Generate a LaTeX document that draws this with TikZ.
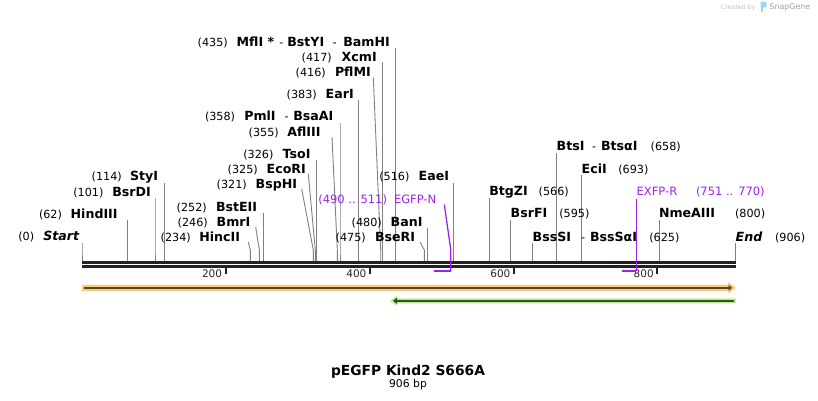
\documentclass[tikz,border=0pt]{standalone}
\usepackage{fontspec}
\setmainfont{DejaVu Sans}
\usetikzlibrary{arrows.meta}
\definecolor{primc}{RGB}{160,32,240}
\definecolor{sitec}{RGB}{128,128,128}
\definecolor{orlight}{RGB}{250,200,120}
\definecolor{ordark}{RGB}{88,72,50}
\definecolor{grlight}{RGB}{182,240,132}
\definecolor{grdark}{RGB}{58,74,48}
\definecolor{bbc}{RGB}{34,34,34}
\definecolor{sgblue}{RGB}{160,212,246}
\begin{document}
\begin{tikzpicture}[x=1pt,y=-1pt,
  lbl/.style={anchor=base west, inner sep=0pt, outer sep=0pt, text=black, font=\fontsize{11.2}{13}\selectfont},
  enz/.style={lbl, font=\fontsize{12.6}{14}\selectfont\bfseries},
  endlbl/.style={lbl, font=\fontsize{12.6}{14}\selectfont\bfseries\itshape},
  prim/.style={lbl, text=primc, font=\fontsize{11.5}{13}\selectfont},
  site/.style={draw=sitec, line width=0.9pt},
  primline/.style={draw=primc, line width=1.3pt},
  primbar/.style={draw=primc, line width=2pt},
  bbline/.style={draw=bbc, line cap=butt},
  tickmark/.style={draw=bbc, line width=1.8pt, line cap=butt},
  axnum/.style={anchor=base east, inner sep=0pt, text=black!85, font=\fontsize{10.5}{12}\selectfont}
]
\useasboundingbox (0,0) rectangle (818,400);

% ---------- backbone ----------
\coordinate (bbl1) at (82,262.5);  \coordinate (bbr1) at (736,262.5);
\coordinate (bbl2) at (82,266.4);  \coordinate (bbr2) at (736,266.4);
\draw[bbline, line width=3pt] (bbl1) -- (bbr1);
\draw[bbline, line width=2.7pt] (bbl2) -- (bbr2);

% ---------- axis ticks ----------
\foreach \nm/\x/\t in {t200/225.7/200, t400/370/400, t600/514/600, t800/657.3/800}{
  \coordinate (\nm a) at (\x,267.5);
  \coordinate (\nm b) at (\x,274.3);
  \draw[tickmark] (\nm a) -- (\nm b);
  \node[axnum] (\nm) at (\x-3.4,277.7) {\t};
}

% ---------- site lines ----------
\foreach \nm/\xa/\ya/\xb in {
  start/82/243/82, hind/127.3/220/127.3, bsrdi/155/198/155, styi/164.3/183/164.3,
  hinc/248.3/242/250.3, bmr/255.7/227/259.3, bste/263.7/212.7/263.7,
  bsph/301.7/189/313.3, eco/308.3/174/315.3, tso/316.9/160/316.9,
  afl/332/137/337.3, pml/340/123/340, ear/358.3/100/358.3,
  pfl/373.3/77.5/380.7, xcm/382.3/62/382.3, bam/395.7/48/395.7,
  bser/420/242/424.3, ban/427.7/228.3/427.7, eae/453.3/182.7/453.3,
  btgz/489.3/198/489.3, bsrf/510.7/220/510.7, bsss/532.7/243/532.7,
  btsi/556.7/153/556.7, eci/581.7/175/581.7, nme/659/220/659, endp/735.7/243/735.7}{
  \coordinate (\nm-a) at (\xa,\ya);
  \coordinate (\nm-b) at (\xb,250);
  \coordinate (\nm-c) at (\xb,261);
  \draw[site] (\nm-a) -- (\nm-b) -- (\nm-c);
}

% ---------- primers ----------
\coordinate (egfp-a) at (444.3,204.5);
\coordinate (egfp-b) at (450.7,249.3);
\coordinate (egfp-c) at (450.7,271);
\coordinate (egfp-d) at (434,271);
\draw[primline] (egfp-a) -- (egfp-b) -- (egfp-c);
\draw[primbar] (egfp-d) -- (egfp-c);
\coordinate (exfp-a) at (636.3,198.5);
\coordinate (exfp-c) at (636.3,271);
\coordinate (exfp-d) at (622,271);
\draw[primline] (exfp-a) -- (exfp-c);
\draw[primbar] (exfp-d) -- (exfp-c);

% ---------- features ----------
\fill[orlight] (82,284.8) -- (728.3,284.8) -- (728.3,282) -- (735.8,287.8) -- (728.3,293.6) -- (728.3,290.8) -- (82,290.8) -- cycle;
\coordinate (orA) at (84,287.8); \coordinate (orB) at (732,287.8);
\draw[ordark, line width=2pt, -{Triangle[length=3.5pt,width=6pt]}] (orA) -- (orB);
\fill[grlight] (735.8,298.3) -- (397,298.3) -- (397,295.7) -- (390,300.8) -- (397,305.9) -- (397,303.3) -- (735.8,303.3) -- cycle;
\coordinate (grA) at (734,300.8); \coordinate (grB) at (393,300.8);
\draw[grdark, line width=2pt, -{Triangle[length=4pt,width=6pt]}] (grA) -- (grB);

% ---------- labels: left group ----------
\node[lbl] (p435) at (197.7,46) {(435)};
\node[enz] (mfl) at (236.7,46) {MflI};
\node[enz] (star) at (267.5,46) {*};
\node[lbl] (d435a) at (279.3,46) {-};
\node[enz] (bsty) at (287.3,46) {BstYI};
\node[lbl] (d435b) at (332.5,46) {-};
\node[enz] (bamhi) at (343.3,46) {BamHI};

\node[lbl] (p417) at (301.7,61) {(417)};
\node[enz] (xcmi) at (341.7,61) {XcmI};
\node[lbl] (p416) at (295.7,76) {(416)};
\node[enz] (pflmi) at (335,76) {PflMI};
\node[lbl] (p383) at (286.7,98.3) {(383)};
\node[enz] (eari) at (325.7,98.3) {EarI};
\node[lbl] (p358) at (205,120.7) {(358)};
\node[enz] (pmli) at (244.3,120.7) {PmlI};
\node[lbl] (d358) at (284.5,120.7) {-};
\node[enz] (bsaai) at (293.3,120.7) {BsaAI};
\node[lbl] (p355) at (248.7,136) {(355)};
\node[enz] (afliii) at (287.3,136) {AflIII};
\node[lbl] (p326) at (243.3,158.3) {(326)};
\node[enz] (tsoi) at (282.7,158.3) {TsoI};
\node[lbl] (p325) at (227.7,173.3) {(325)};
\node[enz] (ecori) at (266.7,173.3) {EcoRI};
\node[lbl] (p321) at (216.7,188.3) {(321)};
\node[enz] (bsphi) at (255.7,188.3) {BspHI};
\node[lbl] (p114) at (91.7,180.7) {(114)};
\node[enz] (styi) at (130,180.7) {StyI};
\node[lbl] (p101) at (73.3,196) {(101)};
\node[enz] (bsrdi) at (112.3,196) {BsrDI};
\node[lbl] (p62) at (39,218.3) {(62)};
\node[enz] (hindiii) at (70.7,218.3) {HindIII};
\node[lbl] (p0) at (18.3,240.8) {(0)};
\node[endlbl] (startl) at (43.3,240.8) {Start};
\node[lbl] (p252) at (176.7,211) {(252)};
\node[enz] (bsteii) at (216,211) {BstEII};
\node[lbl] (p246) at (177.7,226) {(246)};
\node[enz] (bmri) at (216.7,226) {BmrI};
\node[lbl] (p234) at (160.7,241) {(234)};
\node[enz] (hincii) at (199.3,241) {HincII};

% ---------- labels: middle ----------
\node[prim] (p490) at (318.3,203.3) {(490 .. 511)};
\node[prim] (egfpn) at (394,203.3) {EGFP-N};
\node[lbl] (p475) at (335.7,241) {(475)};
\node[enz] (bseri) at (375,241) {BseRI};
\node[lbl] (p480) at (351.7,226) {(480)};
\node[enz] (bani) at (390.7,226) {BanI};
\node[lbl] (p516) at (379.3,180.7) {(516)};
\node[enz] (eaei) at (418.7,180.7) {EaeI};

% ---------- labels: right group ----------
\node[enz] (btgzi) at (489.3,195.7) {BtgZI};
\node[lbl] (p566) at (538.7,195.7) {(566)};
\node[enz] (bsrfi) at (510.7,217.7) {BsrFI};
\node[lbl] (p595) at (559.3,217.7) {(595)};
\node[enz] (bsssi) at (532.7,241) {BssSI};
\node[lbl] (d625) at (581,241) {-};
\node[enz] (bsssai) at (590,241) {BssSαI};
\node[lbl] (p625) at (649.3,241) {(625)};
\node[enz] (btsi) at (556.7,150.7) {BtsI};
\node[lbl] (d658) at (592,150.7) {-};
\node[enz] (btsai) at (601,150.7) {BtsαI};
\node[lbl] (p658) at (650.7,150.7) {(658)};
\node[enz] (ecii) at (581.7,173.3) {EciI};
\node[lbl] (p693) at (618.3,173.3) {(693)};
\node[prim] (exfpr) at (636.7,195.7) {EXFP-R};
\node[prim] (p751) at (696,195.7) {(751 .. 770)};
\node[enz] (nmeaiii) at (659,217.7) {NmeAIII};
\node[lbl] (p800) at (735,217.7) {(800)};
\node[endlbl] (endl) at (735.7,241) {End};
\node[lbl] (p906) at (775,241) {(906)};

% ---------- title ----------
\node[anchor=base, inner sep=0pt, font=\fontsize{13.8}{16}\selectfont\bfseries] (title) at (408,375) {pEGFP Kind2 S666A};
\node[anchor=base, inner sep=0pt, font=\fontsize{10.8}{12}\selectfont] (bp) at (408,387) {906 bp};

% ---------- credit ----------
\node[anchor=base west, inner sep=0pt, text=black!25, font=\fontsize{6.3}{7}\selectfont] (created) at (720.7,9.5) {Created by};
\fill[sgblue, rounded corners=1.2pt] (760.5,1.5) rectangle (766.5,7.5);
\fill[sgblue] (760.5,5) rectangle (763,12);
\node[anchor=base west, inner sep=0pt, text=black!38, font=\fontsize{7.9}{9}\selectfont] (sgname) at (769.3,9.8) {SnapGene};
\end{tikzpicture}
\end{document}
